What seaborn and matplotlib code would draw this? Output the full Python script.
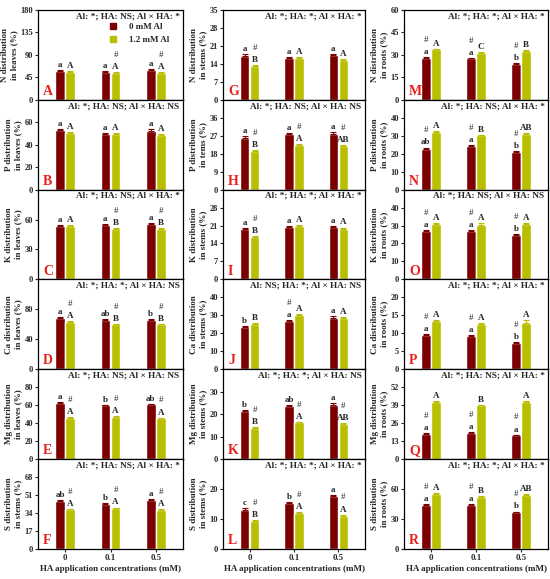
import seaborn as sns
import matplotlib.pyplot as plt
import pandas as pd
from matplotlib.lines import Line2D

# treatments
al_levels = ['0 mM Al', '1.2 mM Al']
ha_conc = ['0', '0.1', '0.5']
bar_colors = ['#7d0000', '#b9bf00']

panel_ids = list('ABCDEFGHIJKLMNOPQR')

ylabels = [
    'N distribution\nin leaves (%)', 'P distribution\nin leaves (%)', 'K distribution\nin leaves (%)',
    'Ca distribution\nin leaves (%)', 'Mg distribution\nin leaves (%)', 'S distribution\nin stems (%)',
    'N distribution\nin stems (%)', 'P distribution\nin tems (%)', 'K distribution\nin stems (%)',
    'Ca distribution\nin stems (%)', 'Mg distribution\nin stems (%)', 'S distribution\nin stems (%)',
    'N distribution\nin roots (%)', 'P distribution\nin roots (%)', 'K distribution\nin roots (%)',
    'Ca distribution\nin roots (%)', 'Mg distribution\nin roots (%)', 'S distribution\nin roots (%)',
]

headers = [
    'Al: *; HA: NS; Al × HA: *', 'Al: *; HA: NS; Al × HA: NS', 'Al: *; HA: NS; Al × HA: *',
    'Al: *; HA: *; Al × HA: NS', 'Al: *; HA: NS; Al × HA: NS', 'Al: *; HA: NS; Al × HA: *',
    'Al: *; HA: *; Al × HA: *', 'Al: *; HA: NS; Al × HA: NS', 'Al: *; HA: *; Al × HA: *',
    'Al: NS; HA: *; Al × HA: NS', 'Al: *; HA: *; Al × HA: NS', 'Al: *; HA: *; Al × HA: *',
    'Al: *; HA: *; Al × HA: *', 'Al: *; HA: NS; Al × HA: *', 'Al: *; HA: NS; Al × HA: NS',
    'Al: *; HA: *; Al × HA: *', 'Al: *; HA: NS; Al × HA: *', 'Al: *; HA: *; Al × HA: *',
]

ymax = [180, 80, 90, 120, 100, 85,
        35, 45, 35, 50, 40, 30,
        60, 50, 50, 25, 65, 90]

yticks = [
    [0, 45, 90, 135, 180], [0, 20, 40, 60], [0, 30, 60],
    [0, 40, 80], [0, 20, 40, 60, 80], [0, 17, 34, 51, 68],
    [0, 7, 14, 21, 28, 35], [0, 9, 18, 27, 36], [0, 7, 14, 21, 28],
    [0, 10, 20, 30, 40], [0, 10, 20, 30], [0, 10, 20],
    [0, 15, 30, 45, 60], [0, 10, 20, 30, 40], [0, 10, 20, 30, 40],
    [0, 5, 10, 15, 20], [0, 13, 26, 39, 52], [0, 30, 60],
]

# means, 0 mM Al
values_0mM = [
    [57.3, 56.6, 60.7], [52.9, 49.7, 52.4], [54.0, 54.7, 56.0],
    [68.8, 65.7, 66.1], [62.2, 59.6, 60.7], [45.2, 42.4, 46.5],
    [17.0, 16.4, 17.4], [26.0, 27.7, 27.7], [19.8, 20.4, 20.3],
    [23.5, 26.7, 28.7], [21.3, 23.4, 24.1], [13.1, 15.4, 17.8],
    [28.1, 27.6, 24.0], [22.6, 24.1, 21.1], [27.2, 26.8, 24.9],
    [9.4, 9.2, 7.2], [18.1, 18.8, 17.1], [43.7, 44.0, 36.7],
]
# means, 1.2 mM Al
values_12mM = [
    [56.0, 54.6, 54.6], [50.3, 49.4, 48.5], [54.0, 50.7, 50.7],
    [63.5, 59.9, 59.9], [46.2, 46.9, 45.4], [37.4, 38.4, 36.8],
    [13.1, 16.3, 15.7], [19.2, 22.5, 21.8], [16.5, 20.7, 19.8],
    [25.2, 30.0, 28.5], [13.8, 16.3, 15.6], [9.3, 12.0, 11.1],
    [33.7, 31.2, 32.6], [32.0, 30.2, 31.1], [30.7, 30.5, 30.7],
    [13.3, 12.5, 12.9], [41.4, 38.8, 41.4], [54.7, 52.0, 53.7],
]

err_0mM = [
    [1.5, 1.0, 1.5], [1.0, 0.6, 1.6], [0.6, 0.8, 0.6],
    [0.8, 1.0, 0.8], [0.8, 0.8, 0.8], [0.8, 0.6, 0.6],
    [0.8, 0.3, 0.5], [1.0, 0.7, 1.2], [0.3, 0.4, 0.4],
    [0.6, 0.5, 1.0], [0.4, 0.8, 0.8], [0.6, 0.3, 0.3],
    [0.6, 0.4, 0.4], [0.8, 0.5, 0.4], [0.4, 0.5, 0.4],
    [0.4, 0.3, 0.3], [0.5, 0.5, 0.5], [0.8, 0.8, 0.6],
]
err_12mM = [
    [1.0, 1.0, 1.0], [1.0, 0.6, 1.0], [0.5, 0.5, 0.5],
    [0.8, 0.5, 0.5], [0.6, 0.6, 0.6], [0.5, 0.6, 0.5],
    [0.3, 0.3, 0.3], [0.4, 0.4, 0.5], [0.3, 0.5, 0.4],
    [0.4, 0.6, 0.5], [0.3, 0.3, 0.3], [0.3, 0.3, 0.3],
    [0.5, 0.5, 0.5], [0.4, 0.4, 0.5], [0.5, 0.8, 0.5],
    [0.4, 0.3, 0.8], [0.6, 0.5, 0.5], [0.8, 0.8, 0.8],
]

letters_0mM = [
    ['a', 'a', 'a'], ['a', 'a', 'a'], ['a', 'a', 'a'],
    ['a', 'ab', 'b'], ['a', 'b', 'ab'], ['ab', 'b', 'a'],
    ['a', 'a', 'a'], ['a', 'a', 'a'], ['a', 'a', 'a'],
    ['b', 'a', 'a'], ['b', 'ab', 'a'], ['c', 'b', 'a'],
    ['a', 'a', 'b'], ['ab', 'a', 'b'], ['a', 'a', 'b'],
    ['a', 'a', 'b'], ['a', 'a', 'a'], ['a', 'a', 'b'],
]
letters_12mM = [
    ['A', 'A', 'A'], ['A', 'A', 'A'], ['A', 'B', 'B'],
    ['A', 'B', 'B'], ['A', 'A', 'A'], ['A', 'A', 'A'],
    ['B', 'A', 'A'], ['B', 'A', 'AB'], ['B', 'A', 'A'],
    ['B', 'A', 'A'], ['B', 'A', 'AB'], ['B', 'A', 'A'],
    ['A', 'C', 'B'], ['A', 'B', 'AB'], ['A', 'A', 'A'],
    ['A', 'A', 'A'], ['A', 'B', 'A'], ['A', 'B', 'AB'],
]

# '#' marks (1 = shown above that bar)
hash_0mM = [[0, 0, 0]] * 9 + [[0, 1, 0]] + [[0, 0, 0]] * 2 + [[1, 1, 1]] * 6
hash_12mM = [
    [0, 1, 1], [0, 0, 0], [0, 1, 1],
    [1, 1, 1], [1, 1, 1], [1, 1, 1],
    [1, 0, 0], [1, 1, 1], [1, 0, 0],
    [0, 0, 0], [1, 1, 1], [1, 1, 1],
] + [[0, 0, 0]] * 6

sns.set_style('ticks')
plt.rcParams['font.family'] = ['Liberation Serif', 'DejaVu Serif']
plt.rcParams['font.weight'] = 'bold'
plt.rcParams['axes.labelweight'] = 'bold'
plt.rcParams['axes.linewidth'] = 0.9
plt.rcParams['axes.edgecolor'] = 'black'

W, H = 550, 579
fig = plt.figure(figsize=(5.5, 5.79), dpi=100)

col_left = [38, 223, 404]
col_width = [145, 142, 144]
row_top = 10
row_h = 89.8

for i, pid in enumerate(panel_ids):
    col, row = divmod(i, 6)
    bottom_px = row_top + (row + 1) * row_h
    ax = fig.add_axes([col_left[col] / W, 1 - bottom_px / H, col_width[col] / W, row_h / H])

    df = pd.DataFrame({
        'HA': ha_conc * 2,
        'Al': [al_levels[0]] * 3 + [al_levels[1]] * 3,
        'value': values_0mM[i] + values_12mM[i],
    })
    sns.barplot(data=df, x='HA', y='value', hue='Al', hue_order=al_levels, order=ha_conc,
                palette=bar_colors, saturation=1, width=0.45, gap=0.05,
                errorbar=None, legend=False, ax=ax)

    errs = [err_0mM[i], err_12mM[i]]
    lets = [letters_0mM[i], letters_12mM[i]]
    hashes = [hash_0mM[i], hash_12mM[i]]
    bar_conts = list(ax.containers)
    for k, cont in enumerate(bar_conts):
        for j, bar in enumerate(cont):
            xc = bar.get_x() + bar.get_width() / 2
            top = bar.get_height()
            e = errs[k][j]
            ax.errorbar(xc, top, yerr=[[0], [e]], color=bar_colors[k], capsize=2,
                        elinewidth=0.8, capthick=0.8)
            ax.annotate(lets[k][j], (xc, top + e), xytext=(0, 0.8), textcoords='offset points',
                        ha='center', va='bottom', fontsize=6.5, fontweight='bold')
            if hashes[k][j]:
                ax.annotate('#', (xc, top + e), xytext=(0, 9.5), textcoords='offset points',
                            ha='center', va='bottom', fontsize=6.5, fontweight='normal')

    ax.set_xlim(-0.6, 2.6)
    ax.set_ylim(0, ymax[i])
    ax.set_yticks(yticks[i])
    ax.tick_params(axis='y', direction='out', length=2.5, width=0.8, labelsize=6, pad=1)
    ax.set_ylabel(ylabels[i], fontsize=6.5, labelpad=2, linespacing=1.2)
    for s in ax.spines.values():
        s.set_color('black')

    if row == 5:
        ax.tick_params(axis='x', direction='out', length=2, width=0.8, labelsize=6.3, pad=2)
        ax.set_xlabel('HA application concentrations (mM)', fontsize=6.5, labelpad=2)
    else:
        ax.tick_params(axis='x', bottom=False, labelbottom=False)
        ax.set_xlabel('')

    ax.text(0.975, 0.93, headers[i], transform=ax.transAxes, ha='right', va='center',
            fontsize=6.7, fontweight='bold')
    ax.text(0.035, 0.02, pid, transform=ax.transAxes, ha='left', va='bottom',
            fontsize=10, fontweight='bold', color='#e8201c')

    if i == 0:
        handles = [Line2D([], [], marker='s', linestyle='none', markersize=5,
                          markerfacecolor=c, markeredgecolor=c) for c in bar_colors]
        ax.legend(handles, al_levels, loc='upper left', bbox_to_anchor=(0.46, 0.9),
                  frameon=False, fontsize=6.5, handletextpad=1.3, labelspacing=0.55,
                  handlelength=1, borderaxespad=0)

fig.savefig('out.png', dpi=100)
